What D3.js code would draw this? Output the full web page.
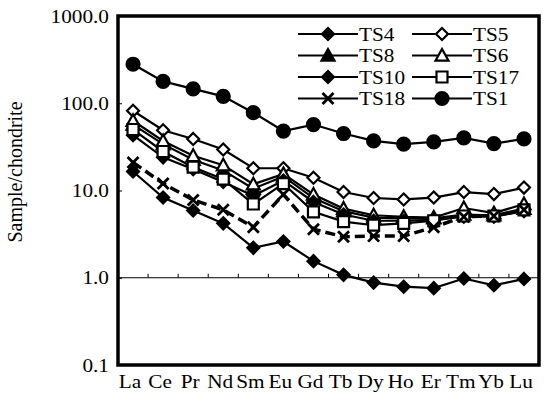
<!DOCTYPE html>
<html>
<head>
<meta charset="utf-8">
<script src="https://cdn.jsdelivr.net/npm/d3@7"></script>
<style>
    html, body { margin: 0; padding: 0; background: #fff; }
    svg { display: block; }
    text { font-family: "Liberation Serif", "Times New Roman", serif; fill: #000; }
</style>
</head>
<body>
<svg id="chart" width="548" height="394"></svg>
<script>
const categories = ["La", "Ce", "Pr", "Nd", "Sm", "Eu", "Gd", "Tb", "Dy", "Ho", "Er", "Tm", "Yb", "Lu"];

const ts1  = [280, 178, 146, 120, 78, 48, 57, 45, 37, 34, 36, 40, 34.5, 39];
const ts5  = [82, 49, 39, 29.5, 18, 18, 14, 9.6, 8.2, 7.9, 8.3, 9.6, 9.1, 10.8];
const ts6  = [63, 37, 25, 19.5, 11.8, 15.5, 9.0, 6.2, 5.2, 5.0, 4.9, 6.3, 5.5, 7.0];
const ts8  = [57, 34, 22.5, 17, 10.5, 14.5, 8.2, 5.8, 4.9, 4.8, 4.8, 5.3, 5.2, 6.2];
const ts17 = [50, 28, 18.5, 13.5, 7.0, 12.0, 5.7, 4.4, 4.0, 4.2, 4.5, 5.1, 5.1, 6.0];
const ts10 = [43, 24, 17.5, 12.5, 8.7, 13.0, 7.4, 5.3, 4.5, 4.5, 4.6, 5.0, 5.0, 5.8];
const ts18 = [21, 12, 7.8, 6.0, 3.8, 9.0, 3.6, 2.95, 3.0, 3.0, 3.8, 5.0, 5.1, 6.0];
const ts4  = [16.5, 8.3, 5.9, 4.2, 2.2, 2.6, 1.55, 1.08, 0.88, 0.79, 0.76, 0.98, 0.82, 0.97];

const yTicks = [0.1, 1, 10, 100, 1000];
const yTickLabels = ["0.1", "1.0", "10.0", "100.0", "1000.0"];

// plot frame
const LEFT = 118;
const RIGHT = 539;
const TOP = 16;
const BOTTOM = 365;

const FONT_SIZE = 19;
const TEXT_STRETCH = 1.12;

// style per series, in legend order (two columns)
const series = [
    { name: "TS4",  values: ts4,  marker: "diamond",  filled: true },
    { name: "TS5",  values: ts5,  marker: "diamond",  filled: false },
    { name: "TS8",  values: ts8,  marker: "triangle", filled: true },
    { name: "TS6",  values: ts6,  marker: "triangle", filled: false },
    { name: "TS10", values: ts10, marker: "diamond",  filled: true },
    { name: "TS17", values: ts17, marker: "square",   filled: false },
    { name: "TS18", values: ts18, marker: "cross",    filled: false, dashed: true },
    { name: "TS1",  values: ts1,  marker: "circle",   filled: true }
];

const svg = d3.select("#chart");

const x = d3.scaleBand().domain(categories).range([LEFT, RIGHT]);
const y = d3.scaleLog().domain([0.1, 1000]).range([BOTTOM, TOP]);
const cx = (c) => x(c) + x.bandwidth() / 2;

function markerPath(kind) {
    const p = d3.path();
    if (kind === "diamond") {
        const r = 6;
        p.moveTo(0, -r); p.lineTo(r, 0); p.lineTo(0, r); p.lineTo(-r, 0); p.closePath();
    } else if (kind === "triangle") {
        const r = 6.5;
        p.moveTo(0, -r); p.lineTo(r, r * 0.8); p.lineTo(-r, r * 0.8); p.closePath();
    } else if (kind === "square") {
        const r = 5.5;
        p.rect(-r, -r, r * 2, r * 2);
    } else if (kind === "cross") {
        const r = 5.5;
        p.moveTo(-r, -r); p.lineTo(r, r);
        p.moveTo(r, -r); p.lineTo(-r, r);
    } else {
        p.arc(0, 0, 6.5, 0, Math.PI * 2);
    }
    return p.toString();
}

function drawMarker(g, s) {
    g.append("path")
        .attr("d", markerPath(s.marker))
        .attr("fill", s.marker === "cross" ? "none" : (s.filled ? "#000" : "#fff"))
        .attr("stroke", "#000")
        .attr("stroke-width", s.marker === "cross" ? 2.8 : 2.2);
}

// horizontal axis line at 1.0 with ticks between categories
const baseY = y(1);
svg.append("line")
    .attr("x1", LEFT).attr("x2", RIGHT)
    .attr("y1", baseY).attr("y2", baseY)
    .attr("stroke", "#000").attr("stroke-width", 1);
svg.append("g").selectAll("line").data(categories.slice(1)).join("line")
    .attr("x1", (c) => x(c)).attr("x2", (c) => x(c))
    .attr("y1", baseY).attr("y2", baseY - 4)
    .attr("stroke", "#000").attr("stroke-width", 1);

// y axis
const yAxis = svg.append("g")
    .attr("transform", `translate(${LEFT},0)`)
    .call(d3.axisLeft(y).tickValues(yTicks).tickFormat((d, i) => yTickLabels[i])
        .tickSizeInner(-4).tickSizeOuter(0).tickPadding(9));
yAxis.select(".domain").remove();
yAxis.selectAll("line").attr("stroke", "#000");
yAxis.selectAll("text")
    .attr("font-size", FONT_SIZE)
    .attr("fill", "#000")
    .attr("transform", function() {
        const tx = +d3.select(this).attr("x");
        return `translate(${tx},0) scale(${TEXT_STRETCH},1) translate(${-tx},0)`;
    });

// category labels
svg.append("g").selectAll("text").data(categories).join("text")
    .attr("text-anchor", "middle")
    .attr("font-size", FONT_SIZE)
    .attr("transform", (c) => `translate(${cx(c) - 3},${BOTTOM + 23}) scale(${TEXT_STRETCH},1)`)
    .text((c) => c);

// y title
svg.append("text")
    .attr("text-anchor", "middle")
    .attr("font-size", 20)
    .attr("transform", `translate(22,172) rotate(-90)`)
    .text("Sample/chondrite");

// lines
const line = d3.line().x((d, i) => cx(categories[i])).y((d) => y(d));
const plot = svg.append("g");
plot.selectAll("path.series").data(series).join("path")
    .attr("class", "series")
    .attr("d", (s) => line(s.values))
    .attr("fill", "none")
    .attr("stroke", "#000")
    .attr("stroke-width", (s) => s.dashed ? 3.5 : 2.2)
    .attr("stroke-dasharray", (s) => s.dashed ? "10,5" : null);

series.forEach((s) => {
    plot.append("g").selectAll("g").data(s.values).join("g")
        .attr("transform", (d, i) => `translate(${cx(categories[i])},${y(d)})`)
        .each(function() { drawMarker(d3.select(this), s); });
});

// legend, two columns
const legend = svg.append("g");
series.forEach((s, i) => {
    const col = i % 2;
    const row = Math.floor(i / 2);
    const x0 = col === 0 ? 298 : 412;
    const gy = 34 + row * 21.5;
    const g = legend.append("g").attr("transform", `translate(${x0},${gy})`);
    g.append("line").attr("x1", 0).attr("x2", 60).attr("y1", 0).attr("y2", 0)
        .attr("stroke", "#000").attr("stroke-width", 2.2);
    const m = g.append("g").attr("transform", "translate(30,0)");
    drawMarker(m, s);
    g.append("text")
        .attr("font-size", FONT_SIZE)
        .attr("dy", "0.35em")
        .attr("transform", `translate(61,0) scale(${TEXT_STRETCH},1)`)
        .text(s.name);
});

// frame
svg.append("rect")
    .attr("x", LEFT).attr("y", TOP)
    .attr("width", RIGHT - LEFT).attr("height", BOTTOM - TOP)
    .attr("fill", "none").attr("stroke", "#000").attr("stroke-width", 3.5);
</script>
</body>
</html>
